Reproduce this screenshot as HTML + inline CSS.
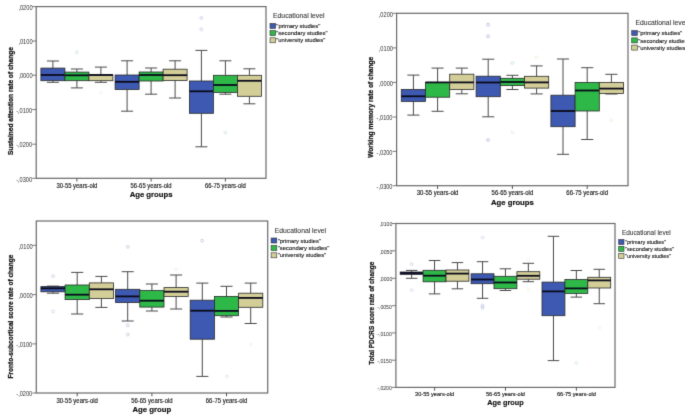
<!DOCTYPE html>
<html><head><meta charset="utf-8"><style>
html,body{margin:0;padding:0;background:#fff;}
body{width:685px;height:420px;overflow:hidden;}
svg{display:block;font-family:'Liberation Sans',sans-serif;}
#w{width:685px;height:420px;will-change:transform;}
</style></head><body><div id="w">
<svg width="685" height="420" viewBox="0 0 685 420" style="font-family:'Liberation Sans',sans-serif">
<defs><filter id="bl" x="0" y="0" width="685" height="420" filterUnits="userSpaceOnUse" color-interpolation-filters="sRGB"><feConvolveMatrix order="3" kernelMatrix="0.01134 0.08382 0.01134 0.08382 0.61935 0.08382 0.01134 0.08382 0.01134" edgeMode="duplicate" preserveAlpha="true"/></filter></defs>
<rect width="685" height="420" fill="#fff"/>
<g filter="url(#bl)">
<rect width="685" height="420" fill="#fff"/>
<path d="M52.9 61V68.1M52.9 80.7V82.3M46.9 61H58.9M46.9 82.3H58.9" stroke="#4a4a4a" stroke-width="1" fill="none"/>
<rect x="40.9" y="68.1" width="24" height="12.6" fill="#3d59b1" stroke="#2a2a2a" stroke-width="0.8"/>
<path d="M40.9 75H64.9" stroke="#0a0a1a" stroke-width="1.8"/>
<path d="M76.9 69V72.1M76.9 80.7V87.9M70.9 69H82.9M70.9 87.9H82.9" stroke="#4a4a4a" stroke-width="1" fill="none"/>
<rect x="64.9" y="72.1" width="24" height="8.6" fill="#2eb848" stroke="#2a2a2a" stroke-width="0.8"/>
<path d="M64.9 75.3H88.9" stroke="#0a0a1a" stroke-width="1.8"/>
<path d="M100.9 67.1V75M100.9 80.7V82.3M94.9 67.1H106.9M94.9 82.3H106.9" stroke="#4a4a4a" stroke-width="1" fill="none"/>
<rect x="88.9" y="75" width="24" height="5.7" fill="#d3ce97" stroke="#2a2a2a" stroke-width="0.8"/>
<path d="M88.9 75H112.9" stroke="#0a0a1a" stroke-width="1.8"/>
<path d="M127.1 60.8V75M127.1 89.5V111.2M121.1 60.8H133.1M121.1 111.2H133.1" stroke="#4a4a4a" stroke-width="1" fill="none"/>
<rect x="115.1" y="75" width="24" height="14.5" fill="#3d59b1" stroke="#2a2a2a" stroke-width="0.8"/>
<path d="M115.1 81.8H139.1" stroke="#0a0a1a" stroke-width="1.8"/>
<path d="M151.1 68V72M151.1 81V94.2M145.1 68H157.1M145.1 94.2H157.1" stroke="#4a4a4a" stroke-width="1" fill="none"/>
<rect x="139.1" y="72" width="24" height="9" fill="#2eb848" stroke="#2a2a2a" stroke-width="0.8"/>
<path d="M139.1 75H163.1" stroke="#0a0a1a" stroke-width="1.8"/>
<path d="M175.1 60.8V69.2M175.1 80.5V98M169.1 60.8H181.1M169.1 98H181.1" stroke="#4a4a4a" stroke-width="1" fill="none"/>
<rect x="163.1" y="69.2" width="24" height="11.3" fill="#d3ce97" stroke="#2a2a2a" stroke-width="0.8"/>
<path d="M163.1 75.2H187.1" stroke="#0a0a1a" stroke-width="1.8"/>
<path d="M201.4 50.4V81M201.4 113.3V146.8M195.4 50.4H207.4M195.4 146.8H207.4" stroke="#4a4a4a" stroke-width="1" fill="none"/>
<rect x="189.4" y="81" width="24" height="32.3" fill="#3d59b1" stroke="#2a2a2a" stroke-width="0.8"/>
<path d="M189.4 91.3H213.4" stroke="#0a0a1a" stroke-width="1.8"/>
<path d="M225.4 60.8V75.3M225.4 92.4V94.2M219.4 60.8H231.4M219.4 94.2H231.4" stroke="#4a4a4a" stroke-width="1" fill="none"/>
<rect x="213.4" y="75.3" width="24" height="17.1" fill="#2eb848" stroke="#2a2a2a" stroke-width="0.8"/>
<path d="M213.4 85H237.4" stroke="#0a0a1a" stroke-width="1.8"/>
<path d="M249.4 68.8V75.3M249.4 96.3V103.8M243.4 68.8H255.4M243.4 103.8H255.4" stroke="#4a4a4a" stroke-width="1" fill="none"/>
<rect x="237.4" y="75.3" width="24" height="21" fill="#d3ce97" stroke="#2a2a2a" stroke-width="0.8"/>
<path d="M237.4 80.8H261.4" stroke="#0a0a1a" stroke-width="1.8"/>
<circle cx="76.7" cy="52.4" r="1.4" fill="none" stroke="#9cd2aa" stroke-width="0.8" opacity="0.5"/>
<circle cx="100.6" cy="92.6" r="1.4" fill="none" stroke="#dedbb8" stroke-width="0.8" opacity="0.35"/>
<circle cx="201.3" cy="17.9" r="1.4" fill="none" stroke="#9aa2cc" stroke-width="0.8" opacity="0.55"/>
<circle cx="201.3" cy="29.3" r="1.4" fill="none" stroke="#9aa2cc" stroke-width="0.8" opacity="0.55"/>
<circle cx="225.4" cy="132.8" r="1.4" fill="none" stroke="#9cd2aa" stroke-width="0.8" opacity="0.5"/>
<rect x="36.2" y="6.6" width="229.8" height="171.7" fill="none" stroke="#6a6a6a" stroke-width="1.2"/>
<path d="M32.2 6.6H36.2" stroke="#6a6a6a" stroke-width="0.9"/>
<text x="32.6" y="9.8" text-anchor="end" font-size="6.3" fill="#2e2e2e" textLength="14.2" lengthAdjust="spacingAndGlyphs">,0200</text>
<path d="M32.2 41H36.2" stroke="#6a6a6a" stroke-width="0.9"/>
<text x="32.6" y="44.2" text-anchor="end" font-size="6.3" fill="#2e2e2e" textLength="14.2" lengthAdjust="spacingAndGlyphs">,0100</text>
<path d="M32.2 75.2H36.2" stroke="#6a6a6a" stroke-width="0.9"/>
<text x="32.6" y="78.4" text-anchor="end" font-size="6.3" fill="#2e2e2e" textLength="14.2" lengthAdjust="spacingAndGlyphs">,0000</text>
<path d="M32.2 109.6H36.2" stroke="#6a6a6a" stroke-width="0.9"/>
<text x="32.1" y="112.8" text-anchor="end" font-size="6.3" fill="#2e2e2e" textLength="15.9" lengthAdjust="spacingAndGlyphs">-,0100</text>
<path d="M32.2 144.2H36.2" stroke="#6a6a6a" stroke-width="0.9"/>
<text x="32.1" y="147.4" text-anchor="end" font-size="6.3" fill="#2e2e2e" textLength="15.9" lengthAdjust="spacingAndGlyphs">-,0200</text>
<path d="M32.2 178.3H36.2" stroke="#6a6a6a" stroke-width="0.9"/>
<text x="32.1" y="181.5" text-anchor="end" font-size="6.3" fill="#2e2e2e" textLength="15.9" lengthAdjust="spacingAndGlyphs">-,0300</text>
<path d="M76.9 178.3V181.6" stroke="#444" stroke-width="0.9"/>
<text x="76.9" y="187.7" text-anchor="middle" font-size="6.3" fill="#1a1a1a" stroke="#1a1a1a" stroke-width="0.15" textLength="41" lengthAdjust="spacingAndGlyphs">30-55 years-old</text>
<path d="M151.1 178.3V181.6" stroke="#444" stroke-width="0.9"/>
<text x="151.1" y="187.7" text-anchor="middle" font-size="6.3" fill="#1a1a1a" stroke="#1a1a1a" stroke-width="0.15" textLength="41" lengthAdjust="spacingAndGlyphs">56-65 years-old</text>
<path d="M225.4 178.3V181.6" stroke="#444" stroke-width="0.9"/>
<text x="225.4" y="187.7" text-anchor="middle" font-size="6.3" fill="#1a1a1a" stroke="#1a1a1a" stroke-width="0.15" textLength="41" lengthAdjust="spacingAndGlyphs">66-75 years-old</text>
<text x="151.1" y="197.3" text-anchor="middle" font-size="8.1" font-weight="bold" fill="#111" stroke="#111" stroke-width="0.2" textLength="42.9" lengthAdjust="spacingAndGlyphs">Age groups</text>
<text transform="translate(12.6 101) rotate(-90)" x="0" y="0" text-anchor="middle" font-size="7" font-weight="bold" fill="#111" stroke="#111" stroke-width="0.25" textLength="108" lengthAdjust="spacingAndGlyphs">Sustained attention rate of change</text>
<text x="273" y="18.4" font-size="7.3" fill="#333" stroke="#333" stroke-width="0.08" textLength="51.6" lengthAdjust="spacingAndGlyphs">Educational level</text>
<rect x="270" y="23.4" width="5.6" height="5.0" fill="#3d59b1" stroke="#333" stroke-width="0.6"/>
<text x="276.3" y="28" font-size="6.2" fill="#111" stroke="#111" stroke-width="0.12" textLength="44" lengthAdjust="spacingAndGlyphs">"primary studies"</text>
<rect x="270" y="30.6" width="5.6" height="5.0" fill="#2eb848" stroke="#333" stroke-width="0.6"/>
<text x="276.3" y="35.2" font-size="6.2" fill="#111" stroke="#111" stroke-width="0.12" textLength="51.2" lengthAdjust="spacingAndGlyphs">"secondary studies"</text>
<rect x="270" y="37.8" width="5.6" height="5.0" fill="#d3ce97" stroke="#333" stroke-width="0.6"/>
<text x="276.3" y="42.4" font-size="6.2" fill="#111" stroke="#111" stroke-width="0.12" textLength="49" lengthAdjust="spacingAndGlyphs">"university studies"</text>
<path d="M413.4 75.1V89.4M413.4 101.4V115.1M407.35 75.1H419.45M407.35 115.1H419.45" stroke="#4a4a4a" stroke-width="1" fill="none"/>
<rect x="401.3" y="89.4" width="24.2" height="12" fill="#3d59b1" stroke="#2a2a2a" stroke-width="0.8"/>
<path d="M401.3 96.3H425.5" stroke="#0a0a1a" stroke-width="1.8"/>
<path d="M437.6 68.1V82.4M437.6 97.2V111.3M431.55 68.1H443.65M431.55 111.3H443.65" stroke="#4a4a4a" stroke-width="1" fill="none"/>
<rect x="425.5" y="82.4" width="24.2" height="14.8" fill="#2eb848" stroke="#2a2a2a" stroke-width="0.8"/>
<path d="M425.5 82.4H449.7" stroke="#0a0a1a" stroke-width="1.8"/>
<path d="M461.8 68.1V74.2M461.8 89.4V93.8M455.75 68.1H467.85M455.75 93.8H467.85" stroke="#4a4a4a" stroke-width="1" fill="none"/>
<rect x="449.7" y="74.2" width="24.2" height="15.2" fill="#d3ce97" stroke="#2a2a2a" stroke-width="0.8"/>
<path d="M449.7 82.4H473.9" stroke="#0a0a1a" stroke-width="1.8"/>
<path d="M488.2 59.2V76.2M488.2 96.7V116.8M482.15 59.2H494.25M482.15 116.8H494.25" stroke="#4a4a4a" stroke-width="1" fill="none"/>
<rect x="476.1" y="76.2" width="24.2" height="20.5" fill="#3d59b1" stroke="#2a2a2a" stroke-width="0.8"/>
<path d="M476.1 82.5H500.3" stroke="#0a0a1a" stroke-width="1.8"/>
<path d="M512.4 75.3V78.3M512.4 85.6V89.5M506.35 75.3H518.45M506.35 89.5H518.45" stroke="#4a4a4a" stroke-width="1" fill="none"/>
<rect x="500.3" y="78.3" width="24.2" height="7.3" fill="#2eb848" stroke="#2a2a2a" stroke-width="0.8"/>
<path d="M500.3 82H524.5" stroke="#0a0a1a" stroke-width="1.8"/>
<path d="M536.6 65.9V76.3M536.6 88.1V93.9M530.55 65.9H542.65M530.55 93.9H542.65" stroke="#4a4a4a" stroke-width="1" fill="none"/>
<rect x="524.5" y="76.3" width="24.2" height="11.8" fill="#d3ce97" stroke="#2a2a2a" stroke-width="0.8"/>
<path d="M524.5 82.4H548.7" stroke="#0a0a1a" stroke-width="1.8"/>
<path d="M563 59V95.2M563 126.7V154.3M556.95 59H569.05M556.95 154.3H569.05" stroke="#4a4a4a" stroke-width="1" fill="none"/>
<rect x="550.9" y="95.2" width="24.2" height="31.5" fill="#3d59b1" stroke="#2a2a2a" stroke-width="0.8"/>
<path d="M550.9 111H575.1" stroke="#0a0a1a" stroke-width="1.8"/>
<path d="M587.2 67.7V82.4M587.2 111V139.5M581.15 67.7H593.25M581.15 139.5H593.25" stroke="#4a4a4a" stroke-width="1" fill="none"/>
<rect x="575.1" y="82.4" width="24.2" height="28.6" fill="#2eb848" stroke="#2a2a2a" stroke-width="0.8"/>
<path d="M575.1 90.5H599.3" stroke="#0a0a1a" stroke-width="1.8"/>
<path d="M611.4 74.3V82.4M611.4 93.4V94M605.35 74.3H617.45M605.35 94H617.45" stroke="#4a4a4a" stroke-width="1" fill="none"/>
<rect x="599.3" y="82.4" width="24.2" height="11" fill="#d3ce97" stroke="#2a2a2a" stroke-width="0.8"/>
<path d="M599.3 88.6H623.5" stroke="#0a0a1a" stroke-width="1.8"/>
<circle cx="488.1" cy="24.7" r="1.4" fill="none" stroke="#9aa2cc" stroke-width="0.8" opacity="0.75"/>
<circle cx="488.1" cy="36.3" r="1.4" fill="none" stroke="#9aa2cc" stroke-width="0.8" opacity="0.75"/>
<circle cx="488.1" cy="140" r="1.4" fill="none" stroke="#9aa2cc" stroke-width="0.8" opacity="0.7"/>
<circle cx="512.4" cy="63" r="1.4" fill="none" stroke="#9cd2aa" stroke-width="0.8" opacity="0.6"/>
<circle cx="512.4" cy="132.4" r="1.4" fill="none" stroke="#9cd2aa" stroke-width="0.8" opacity="0.35"/>
<circle cx="536.4" cy="57.3" r="1.4" fill="none" stroke="#dedbb8" stroke-width="0.8" opacity="0.5"/>
<circle cx="611.3" cy="120.4" r="1.4" fill="none" stroke="#dedbb8" stroke-width="0.8" opacity="0.5"/>
<rect x="396.6" y="13.3" width="231.4" height="172.4" fill="none" stroke="#6a6a6a" stroke-width="1.2"/>
<path d="M392.6 13.3H396.6" stroke="#6a6a6a" stroke-width="0.9"/>
<text x="393" y="16.5" text-anchor="end" font-size="6.3" fill="#2e2e2e" textLength="14.2" lengthAdjust="spacingAndGlyphs">,0200</text>
<path d="M392.6 47.9H396.6" stroke="#6a6a6a" stroke-width="0.9"/>
<text x="393" y="51.1" text-anchor="end" font-size="6.3" fill="#2e2e2e" textLength="14.2" lengthAdjust="spacingAndGlyphs">,0100</text>
<path d="M392.6 82.4H396.6" stroke="#6a6a6a" stroke-width="0.9"/>
<text x="393" y="85.6" text-anchor="end" font-size="6.3" fill="#2e2e2e" textLength="14.2" lengthAdjust="spacingAndGlyphs">,0000</text>
<path d="M392.6 117H396.6" stroke="#6a6a6a" stroke-width="0.9"/>
<text x="392.5" y="120.2" text-anchor="end" font-size="6.3" fill="#2e2e2e" textLength="15.9" lengthAdjust="spacingAndGlyphs">-,0100</text>
<path d="M392.6 151.4H396.6" stroke="#6a6a6a" stroke-width="0.9"/>
<text x="392.5" y="154.6" text-anchor="end" font-size="6.3" fill="#2e2e2e" textLength="15.9" lengthAdjust="spacingAndGlyphs">-,0200</text>
<path d="M392.6 185.7H396.6" stroke="#6a6a6a" stroke-width="0.9"/>
<text x="392.5" y="188.9" text-anchor="end" font-size="6.3" fill="#2e2e2e" textLength="15.9" lengthAdjust="spacingAndGlyphs">-,0300</text>
<path d="M437.6 185.7V189" stroke="#444" stroke-width="0.9"/>
<text x="437.6" y="195" text-anchor="middle" font-size="6.3" fill="#1a1a1a" stroke="#1a1a1a" stroke-width="0.15" textLength="41.7" lengthAdjust="spacingAndGlyphs">30-55 years-old</text>
<path d="M512.4 185.7V189" stroke="#444" stroke-width="0.9"/>
<text x="512.4" y="195" text-anchor="middle" font-size="6.3" fill="#1a1a1a" stroke="#1a1a1a" stroke-width="0.15" textLength="41.7" lengthAdjust="spacingAndGlyphs">56-65 years-old</text>
<path d="M587.2 185.7V189" stroke="#444" stroke-width="0.9"/>
<text x="587.2" y="195" text-anchor="middle" font-size="6.3" fill="#1a1a1a" stroke="#1a1a1a" stroke-width="0.15" textLength="41.7" lengthAdjust="spacingAndGlyphs">66-75 years-old</text>
<text x="512.4" y="204.8" text-anchor="middle" font-size="8.1" font-weight="bold" fill="#111" stroke="#111" stroke-width="0.2" textLength="42.8" lengthAdjust="spacingAndGlyphs">Age groups</text>
<text transform="translate(373.2 107.3) rotate(-90)" x="0" y="0" text-anchor="middle" font-size="7" font-weight="bold" fill="#111" stroke="#111" stroke-width="0.25" textLength="101" lengthAdjust="spacingAndGlyphs">Working memory rate of change</text>
<text x="635.5" y="25.2" font-size="7.3" fill="#333" stroke="#333" stroke-width="0.08" textLength="51.6" lengthAdjust="spacingAndGlyphs">Educational level</text>
<rect x="631.7" y="30.5" width="5.6" height="5.0" fill="#3d59b1" stroke="#333" stroke-width="0.6"/>
<text x="638.2" y="35.1" font-size="6.2" fill="#111" stroke="#111" stroke-width="0.12" textLength="44" lengthAdjust="spacingAndGlyphs">"primary studies"</text>
<rect x="631.7" y="37.9" width="5.6" height="5.0" fill="#2eb848" stroke="#333" stroke-width="0.6"/>
<text x="638.2" y="42.5" font-size="6.2" fill="#111" stroke="#111" stroke-width="0.12" textLength="51.2" lengthAdjust="spacingAndGlyphs">"secondary studies"</text>
<rect x="631.7" y="45.1" width="5.6" height="5.0" fill="#d3ce97" stroke="#333" stroke-width="0.6"/>
<text x="638.2" y="49.7" font-size="6.2" fill="#111" stroke="#111" stroke-width="0.12" textLength="49" lengthAdjust="spacingAndGlyphs">"university studies"</text>
<path d="M53 286.1V286.6M53 291.8V293.2M46.95 286.1H59.05M46.95 293.2H59.05" stroke="#4a4a4a" stroke-width="1" fill="none"/>
<rect x="40.9" y="286.6" width="24.2" height="5.2" fill="#3d59b1" stroke="#2a2a2a" stroke-width="0.8"/>
<path d="M40.9 288.3H65.1" stroke="#0a0a1a" stroke-width="1.8"/>
<path d="M77.2 272.4V285M77.2 299.6V314M71.15 272.4H83.25M71.15 314H83.25" stroke="#4a4a4a" stroke-width="1" fill="none"/>
<rect x="65.1" y="285" width="24.2" height="14.6" fill="#2eb848" stroke="#2a2a2a" stroke-width="0.8"/>
<path d="M65.1 294.7H89.3" stroke="#0a0a1a" stroke-width="1.8"/>
<path d="M101.4 276.4V282.9M101.4 298.6V307.4M95.35 276.4H107.45M95.35 307.4H107.45" stroke="#4a4a4a" stroke-width="1" fill="none"/>
<rect x="89.3" y="282.9" width="24.2" height="15.7" fill="#d3ce97" stroke="#2a2a2a" stroke-width="0.8"/>
<path d="M89.3 289.3H113.5" stroke="#0a0a1a" stroke-width="1.8"/>
<path d="M127.7 271.7V289.3M127.7 302.6V321M121.65 271.7H133.75M121.65 321H133.75" stroke="#4a4a4a" stroke-width="1" fill="none"/>
<rect x="115.6" y="289.3" width="24.2" height="13.3" fill="#3d59b1" stroke="#2a2a2a" stroke-width="0.8"/>
<path d="M115.6 296.4H139.8" stroke="#0a0a1a" stroke-width="1.8"/>
<path d="M151.9 284V290.5M151.9 307.1V311M145.85 284H157.95M145.85 311H157.95" stroke="#4a4a4a" stroke-width="1" fill="none"/>
<rect x="139.8" y="290.5" width="24.2" height="16.6" fill="#2eb848" stroke="#2a2a2a" stroke-width="0.8"/>
<path d="M139.8 300.7H164" stroke="#0a0a1a" stroke-width="1.8"/>
<path d="M176.1 275V287.6M176.1 296.4V309M170.05 275H182.15M170.05 309H182.15" stroke="#4a4a4a" stroke-width="1" fill="none"/>
<rect x="164" y="287.6" width="24.2" height="8.8" fill="#d3ce97" stroke="#2a2a2a" stroke-width="0.8"/>
<path d="M164 291.7H188.2" stroke="#0a0a1a" stroke-width="1.8"/>
<path d="M202.3 283.1V300.2M202.3 339.2V376.4M196.25 283.1H208.35M196.25 376.4H208.35" stroke="#4a4a4a" stroke-width="1" fill="none"/>
<rect x="190.2" y="300.2" width="24.2" height="39" fill="#3d59b1" stroke="#2a2a2a" stroke-width="0.8"/>
<path d="M190.2 310.7H214.4" stroke="#0a0a1a" stroke-width="1.8"/>
<path d="M226.5 286.3V296.4M226.5 315.7V317M220.45 286.3H232.55M220.45 317H232.55" stroke="#4a4a4a" stroke-width="1" fill="none"/>
<rect x="214.4" y="296.4" width="24.2" height="19.3" fill="#2eb848" stroke="#2a2a2a" stroke-width="0.8"/>
<path d="M214.4 310.9H238.6" stroke="#0a0a1a" stroke-width="1.8"/>
<path d="M250.7 283.1V293.2M250.7 307.3V323.5M244.65 283.1H256.75M244.65 323.5H256.75" stroke="#4a4a4a" stroke-width="1" fill="none"/>
<rect x="238.6" y="293.2" width="24.2" height="14.1" fill="#d3ce97" stroke="#2a2a2a" stroke-width="0.8"/>
<path d="M238.6 297.9H262.8" stroke="#0a0a1a" stroke-width="1.8"/>
<circle cx="53.1" cy="276.2" r="1.4" fill="none" stroke="#9aa2cc" stroke-width="0.8" opacity="0.5"/>
<circle cx="53.1" cy="311.4" r="1.4" fill="none" stroke="#9aa2cc" stroke-width="0.8" opacity="0.45"/>
<circle cx="127.8" cy="246.8" r="1.4" fill="none" stroke="#9aa2cc" stroke-width="0.8" opacity="0.6"/>
<circle cx="127.8" cy="325.3" r="1.4" fill="none" stroke="#9aa2cc" stroke-width="0.8" opacity="0.6"/>
<circle cx="127.8" cy="334.5" r="1.4" fill="none" stroke="#9aa2cc" stroke-width="0.8" opacity="0.6"/>
<circle cx="176" cy="269.3" r="1.4" fill="none" stroke="#dedbb8" stroke-width="0.8" opacity="0.4"/>
<circle cx="202.1" cy="240.7" r="1.4" fill="none" stroke="#9aa2cc" stroke-width="0.8" opacity="0.6"/>
<circle cx="226.9" cy="376.4" r="1.4" fill="none" stroke="#9cd2aa" stroke-width="0.8" opacity="0.45"/>
<circle cx="251" cy="344.5" r="1.4" fill="none" stroke="#dedbb8" stroke-width="0.8" opacity="0.4"/>
<rect x="36.3" y="221" width="231.4" height="172" fill="none" stroke="#6a6a6a" stroke-width="1.2"/>
<path d="M32.3 245.3H36.3" stroke="#6a6a6a" stroke-width="0.9"/>
<text x="32.7" y="248.5" text-anchor="end" font-size="6.3" fill="#2e2e2e" textLength="14.2" lengthAdjust="spacingAndGlyphs">,0100</text>
<path d="M32.3 294.6H36.3" stroke="#6a6a6a" stroke-width="0.9"/>
<text x="32.7" y="297.8" text-anchor="end" font-size="6.3" fill="#2e2e2e" textLength="14.2" lengthAdjust="spacingAndGlyphs">,0000</text>
<path d="M32.3 343.9H36.3" stroke="#6a6a6a" stroke-width="0.9"/>
<text x="32.2" y="347.1" text-anchor="end" font-size="6.3" fill="#2e2e2e" textLength="15.9" lengthAdjust="spacingAndGlyphs">-,0100</text>
<path d="M32.3 393H36.3" stroke="#6a6a6a" stroke-width="0.9"/>
<text x="32.2" y="396.2" text-anchor="end" font-size="6.3" fill="#2e2e2e" textLength="15.9" lengthAdjust="spacingAndGlyphs">-,0200</text>
<path d="M77.2 393V396.3" stroke="#444" stroke-width="0.9"/>
<text x="77.2" y="402.7" text-anchor="middle" font-size="6.3" fill="#1a1a1a" stroke="#1a1a1a" stroke-width="0.15" textLength="41.5" lengthAdjust="spacingAndGlyphs">30-55 years-old</text>
<path d="M151.9 393V396.3" stroke="#444" stroke-width="0.9"/>
<text x="151.9" y="402.7" text-anchor="middle" font-size="6.3" fill="#1a1a1a" stroke="#1a1a1a" stroke-width="0.15" textLength="41.5" lengthAdjust="spacingAndGlyphs">56-65 years-old</text>
<path d="M226.5 393V396.3" stroke="#444" stroke-width="0.9"/>
<text x="226.5" y="402.7" text-anchor="middle" font-size="6.3" fill="#1a1a1a" stroke="#1a1a1a" stroke-width="0.15" textLength="41.5" lengthAdjust="spacingAndGlyphs">66-75 years-old</text>
<text x="151.9" y="412.2" text-anchor="middle" font-size="8.1" font-weight="bold" fill="#111" stroke="#111" stroke-width="0.2" textLength="38.8" lengthAdjust="spacingAndGlyphs">Age group</text>
<text transform="translate(12.6 316.6) rotate(-90)" x="0" y="0" text-anchor="middle" font-size="7" font-weight="bold" fill="#111" stroke="#111" stroke-width="0.25" textLength="124" lengthAdjust="spacingAndGlyphs">Fronto-subcortical score rate of change</text>
<text x="274.7" y="233.1" font-size="7.3" fill="#333" stroke="#333" stroke-width="0.08" textLength="51.4" lengthAdjust="spacingAndGlyphs">Educational level</text>
<rect x="271.1" y="238" width="5.7" height="5.0" fill="#3d59b1" stroke="#333" stroke-width="0.6"/>
<text x="277.7" y="242.6" font-size="6.2" fill="#111" stroke="#111" stroke-width="0.12" textLength="43.2" lengthAdjust="spacingAndGlyphs">"primary studies"</text>
<rect x="271.1" y="245.5" width="5.7" height="5.0" fill="#2eb848" stroke="#333" stroke-width="0.6"/>
<text x="277.7" y="250.1" font-size="6.2" fill="#111" stroke="#111" stroke-width="0.12" textLength="51.7" lengthAdjust="spacingAndGlyphs">"secondary studies"</text>
<rect x="271.1" y="252.8" width="5.7" height="5.0" fill="#d3ce97" stroke="#333" stroke-width="0.6"/>
<text x="277.7" y="257.4" font-size="6.2" fill="#111" stroke="#111" stroke-width="0.12" textLength="48.4" lengthAdjust="spacingAndGlyphs">"university studies"</text>
<path d="M411.65 270.4V272M411.65 274.4V278.3M405.93 270.4H417.38M405.93 278.3H417.38" stroke="#4a4a4a" stroke-width="1" fill="none"/>
<rect x="400.2" y="272" width="22.9" height="2.4" fill="#3d59b1" stroke="#2a2a2a" stroke-width="0.8"/>
<path d="M400.2 273H423.1" stroke="#0a0a1a" stroke-width="1.8"/>
<path d="M434.55 260.5V270.3M434.55 281.8V293.9M428.82 260.5H440.28M428.82 293.9H440.28" stroke="#4a4a4a" stroke-width="1" fill="none"/>
<rect x="423.1" y="270.3" width="22.9" height="11.5" fill="#2eb848" stroke="#2a2a2a" stroke-width="0.8"/>
<path d="M423.1 275.7H446" stroke="#0a0a1a" stroke-width="1.8"/>
<path d="M457.45 262.6V270M457.45 281.2V288.8M451.73 262.6H463.18M451.73 288.8H463.18" stroke="#4a4a4a" stroke-width="1" fill="none"/>
<rect x="446" y="270" width="22.9" height="11.2" fill="#d3ce97" stroke="#2a2a2a" stroke-width="0.8"/>
<path d="M446 273.6H468.9" stroke="#0a0a1a" stroke-width="1.8"/>
<path d="M482.55 261.7V273.8M482.55 283.7V298.3M476.82 261.7H488.28M476.82 298.3H488.28" stroke="#4a4a4a" stroke-width="1" fill="none"/>
<rect x="471.1" y="273.8" width="22.9" height="9.9" fill="#3d59b1" stroke="#2a2a2a" stroke-width="0.8"/>
<path d="M471.1 279.5H494" stroke="#0a0a1a" stroke-width="1.8"/>
<path d="M505.45 268.8V276.3M505.45 288.7V290.5M499.72 268.8H511.18M499.72 290.5H511.18" stroke="#4a4a4a" stroke-width="1" fill="none"/>
<rect x="494" y="276.3" width="22.9" height="12.4" fill="#2eb848" stroke="#2a2a2a" stroke-width="0.8"/>
<path d="M494 282.5H516.9" stroke="#0a0a1a" stroke-width="1.8"/>
<path d="M528.35 263.3V271.7M528.35 279.2V281.7M522.62 263.3H534.07M522.62 281.7H534.07" stroke="#4a4a4a" stroke-width="1" fill="none"/>
<rect x="516.9" y="271.7" width="22.9" height="7.5" fill="#d3ce97" stroke="#2a2a2a" stroke-width="0.8"/>
<path d="M516.9 275.8H539.8" stroke="#0a0a1a" stroke-width="1.8"/>
<path d="M553.45 236.3V282.1M553.45 315.7V360.6M547.73 236.3H559.18M547.73 360.6H559.18" stroke="#4a4a4a" stroke-width="1" fill="none"/>
<rect x="542" y="282.1" width="22.9" height="33.6" fill="#3d59b1" stroke="#2a2a2a" stroke-width="0.8"/>
<path d="M542 291.4H564.9" stroke="#0a0a1a" stroke-width="1.8"/>
<path d="M576.35 270.5V279.5M576.35 293.4V297.1M570.62 270.5H582.07M570.62 297.1H582.07" stroke="#4a4a4a" stroke-width="1" fill="none"/>
<rect x="564.9" y="279.5" width="22.9" height="13.9" fill="#2eb848" stroke="#2a2a2a" stroke-width="0.8"/>
<path d="M564.9 288.4H587.8" stroke="#0a0a1a" stroke-width="1.8"/>
<path d="M599.25 269.3V277.3M599.25 288V303.7M593.52 269.3H604.98M593.52 303.7H604.98" stroke="#4a4a4a" stroke-width="1" fill="none"/>
<rect x="587.8" y="277.3" width="22.9" height="10.7" fill="#d3ce97" stroke="#2a2a2a" stroke-width="0.8"/>
<path d="M587.8 280.4H610.7" stroke="#0a0a1a" stroke-width="1.8"/>
<circle cx="411.7" cy="264.2" r="1.4" fill="none" stroke="#9aa2cc" stroke-width="0.8" opacity="0.5"/>
<circle cx="411.7" cy="290.1" r="1.4" fill="none" stroke="#9aa2cc" stroke-width="0.8" opacity="0.4"/>
<circle cx="482.5" cy="305.5" r="1.4" fill="none" stroke="#9aa2cc" stroke-width="0.8" opacity="0.6"/>
<circle cx="482.5" cy="307.8" r="1.4" fill="none" stroke="#9aa2cc" stroke-width="0.8" opacity="0.6"/>
<circle cx="482.6" cy="237.5" r="1.4" fill="none" stroke="#9aa2cc" stroke-width="0.8" opacity="0.4"/>
<circle cx="528.4" cy="259.7" r="1.4" fill="none" stroke="#dedbb8" stroke-width="0.8" opacity="0.35"/>
<circle cx="528.4" cy="289.7" r="1.4" fill="none" stroke="#dedbb8" stroke-width="0.8" opacity="0.35"/>
<circle cx="576.4" cy="362.9" r="1.4" fill="none" stroke="#9cd2aa" stroke-width="0.8" opacity="0.45"/>
<circle cx="599.3" cy="328" r="1.4" fill="none" stroke="#dedbb8" stroke-width="0.8" opacity="0.35"/>
<rect x="395.9" y="223.5" width="219.1" height="163.9" fill="none" stroke="#6a6a6a" stroke-width="1.2"/>
<path d="M391.9 223.5H395.9" stroke="#6a6a6a" stroke-width="0.9"/>
<text x="392.3" y="226.41" text-anchor="end" font-size="5.73" fill="#2e2e2e" textLength="12.922" lengthAdjust="spacingAndGlyphs">,0100</text>
<path d="M391.9 250.8H395.9" stroke="#6a6a6a" stroke-width="0.9"/>
<text x="392.3" y="253.71" text-anchor="end" font-size="5.73" fill="#2e2e2e" textLength="12.922" lengthAdjust="spacingAndGlyphs">,0050</text>
<path d="M391.9 278.3H395.9" stroke="#6a6a6a" stroke-width="0.9"/>
<text x="392.3" y="281.21" text-anchor="end" font-size="5.73" fill="#2e2e2e" textLength="12.922" lengthAdjust="spacingAndGlyphs">,0000</text>
<path d="M391.9 305.7H395.9" stroke="#6a6a6a" stroke-width="0.9"/>
<text x="391.8" y="308.61" text-anchor="end" font-size="5.73" fill="#2e2e2e" textLength="14.469000000000001" lengthAdjust="spacingAndGlyphs">-,0050</text>
<path d="M391.9 332.9H395.9" stroke="#6a6a6a" stroke-width="0.9"/>
<text x="391.8" y="335.81" text-anchor="end" font-size="5.73" fill="#2e2e2e" textLength="14.469000000000001" lengthAdjust="spacingAndGlyphs">-,0100</text>
<path d="M391.9 360.2H395.9" stroke="#6a6a6a" stroke-width="0.9"/>
<text x="391.8" y="363.11" text-anchor="end" font-size="5.73" fill="#2e2e2e" textLength="14.469000000000001" lengthAdjust="spacingAndGlyphs">-,0150</text>
<path d="M391.9 387.4H395.9" stroke="#6a6a6a" stroke-width="0.9"/>
<text x="391.8" y="390.31" text-anchor="end" font-size="5.73" fill="#2e2e2e" textLength="14.469000000000001" lengthAdjust="spacingAndGlyphs">-,0200</text>
<path d="M434.6 387.4V390.7" stroke="#444" stroke-width="0.9"/>
<text x="434.6" y="396.35" text-anchor="middle" font-size="5.86" fill="#1a1a1a" stroke="#1a1a1a" stroke-width="0.15" textLength="39" lengthAdjust="spacingAndGlyphs">30-55 years-old</text>
<path d="M505.5 387.4V390.7" stroke="#444" stroke-width="0.9"/>
<text x="505.5" y="396.35" text-anchor="middle" font-size="5.86" fill="#1a1a1a" stroke="#1a1a1a" stroke-width="0.15" textLength="39" lengthAdjust="spacingAndGlyphs">56-65 years-old</text>
<path d="M576.4 387.4V390.7" stroke="#444" stroke-width="0.9"/>
<text x="576.4" y="396.35" text-anchor="middle" font-size="5.86" fill="#1a1a1a" stroke="#1a1a1a" stroke-width="0.15" textLength="39" lengthAdjust="spacingAndGlyphs">66-75 years-old</text>
<text x="505.5" y="405.2" text-anchor="middle" font-size="8.1" font-weight="bold" fill="#111" stroke="#111" stroke-width="0.2" textLength="36.4" lengthAdjust="spacingAndGlyphs">Age group</text>
<text transform="translate(373.5 313.2) rotate(-90)" x="0" y="0" text-anchor="middle" font-size="7" font-weight="bold" fill="#111" stroke="#111" stroke-width="0.25" textLength="103" lengthAdjust="spacingAndGlyphs">Total PDCRS score rate of change</text>
<text x="621.9" y="234.7" font-size="7.3" fill="#333" stroke="#333" stroke-width="0.08" textLength="48.8" lengthAdjust="spacingAndGlyphs">Educational level</text>
<rect x="618.7" y="239.5" width="5.3" height="5.0" fill="#3d59b1" stroke="#333" stroke-width="0.6"/>
<text x="625" y="244.1" font-size="6.2" fill="#111" stroke="#111" stroke-width="0.12" textLength="41" lengthAdjust="spacingAndGlyphs">"primary studies"</text>
<rect x="618.7" y="246.3" width="5.3" height="5.0" fill="#2eb848" stroke="#333" stroke-width="0.6"/>
<text x="625" y="250.9" font-size="6.2" fill="#111" stroke="#111" stroke-width="0.12" textLength="48.9" lengthAdjust="spacingAndGlyphs">"secondary studies"</text>
<rect x="618.7" y="253.4" width="5.3" height="5.0" fill="#d3ce97" stroke="#333" stroke-width="0.6"/>
<text x="625" y="258" font-size="6.2" fill="#111" stroke="#111" stroke-width="0.12" textLength="46" lengthAdjust="spacingAndGlyphs">"university studies"</text>
</g>
</svg></div>
</body></html>
